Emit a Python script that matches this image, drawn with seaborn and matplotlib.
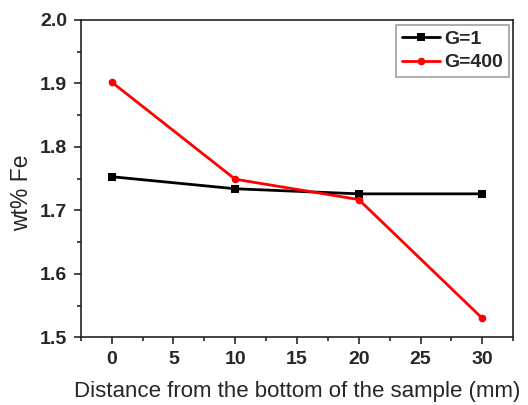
import numpy as np
import pandas as pd
import matplotlib
matplotlib.use('Agg')
import matplotlib.pyplot as plt
import seaborn as sns
from matplotlib.ticker import MultipleLocator

sns.set_style('ticks')
plt.rcParams['font.family'] = ['Liberation Sans', 'DejaVu Sans']

distance = [0, 10, 20, 30]
fe_g1 = [1.753, 1.734, 1.726, 1.726]
fe_g400 = [1.902, 1.749, 1.717, 1.530]

df = pd.DataFrame({
    'distance': distance * 2,
    'fe': fe_g1 + fe_g400,
    'group': ['G=1'] * 4 + ['G=400'] * 4,
})

fig, ax = plt.subplots(figsize=(5.28, 4.05), dpi=100)
plt.subplots_adjust(left=0.153, right=0.972, top=0.951, bottom=0.167)

sns.lineplot(data=df, x='distance', y='fe', hue='group', style='group',
             palette={'G=1': 'black', 'G=400': '#ff0000'},
             markers={'G=1': 's', 'G=400': 'o'}, dashes=False,
             markersize=5.5, linewidth=2, markeredgewidth=0, ax=ax)

ax.set_xlim(-2.5, 32.5)
ax.set_ylim(1.5, 2.0)
ax.xaxis.set_major_locator(MultipleLocator(5))
ax.xaxis.set_minor_locator(MultipleLocator(2.5))
ax.yaxis.set_major_locator(MultipleLocator(0.1))
ax.yaxis.set_minor_locator(MultipleLocator(0.05))
ax.tick_params(which='major', direction='out', length=5, width=1.2, labelsize=14, pad=5)
ax.tick_params(which='minor', direction='out', length=3, width=1.2)
for lab in ax.get_xticklabels() + ax.get_yticklabels():
    lab.set_fontweight('bold')
for sp in ax.spines.values():
    sp.set_visible(True)
    sp.set_linewidth(1.2)
    sp.set_color('#222222')

ax.set_xlabel('Distance from the bottom of the sample (mm)', fontsize=16, labelpad=9)
ax.set_ylabel('wt% Fe', fontsize=16.5)
ax.yaxis.set_label_coords(-0.11, 0.454)

leg = ax.legend(loc='upper right', frameon=True, fancybox=False, edgecolor='#888888',
                fontsize=14, handlelength=2.0, handletextpad=0.2, borderpad=0.3,
                labelspacing=0.3, borderaxespad=0, bbox_to_anchor=(0.99, 0.985))
for t in leg.get_texts():
    t.set_fontweight('bold')
leg.get_frame().set_linewidth(1.2)

plt.savefig('out.png', dpi=100)
